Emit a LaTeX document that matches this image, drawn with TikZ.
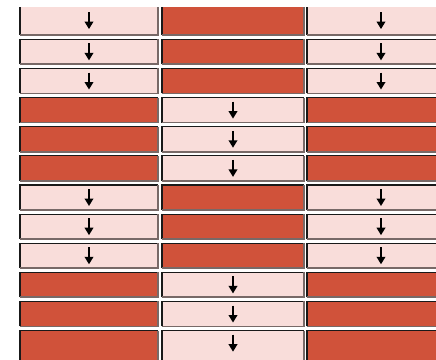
\documentclass[tikz,border=0pt]{standalone}
\usetikzlibrary{arrows.meta}
\definecolor{cpink}{RGB}{249,221,218}
\definecolor{cred}{RGB}{208,82,58}
\definecolor{cshade}{RGB}{120,105,103}
\tikzset{
  cellbox/.style={inner sep=0pt, outer sep=0pt, anchor=north west, draw=none},
  pinkcell/.style={cellbox, fill=cpink},
  redcell/.style={cellbox, fill=cred},
  darkedge/.style={draw=black!90, line width=1.1pt},
  shadeedge/.style={draw=cshade, line width=1.8pt},
  downarrow/.style={-{Triangle[width=8.5pt,length=7.5pt]}, line width=2pt, black},
}
\begin{document}
\begin{tikzpicture}[x=1pt,y=-1pt]
\useasboundingbox (0,0) rectangle (436,359);
\clip (0,7) rectangle (436,359);
\foreach \r in {0,...,11} {
  \pgfmathsetmacro\t{\r==0 ? 6 : 39.3+(\r-1)*29.13}
  \pgfmathsetmacro\h{\r==0 ? 29.2 : (\r==11 ? 32 : 25)}
  \pgfmathsetmacro\ac{\r==0 ? 20.6 : \t+12.6}
  \pgfmathtruncatemacro\grp{mod(floor(\r/3),2)}
  \foreach \c/\x/\w in {0/20/138, 1/162/142, 2/307/148} {
    \pgfmathtruncatemacro\pk{mod(\grp+(\c==1),2)}
    \pgfmathsetmacro\mx{\x+\w/2}
    \ifnum\pk=0
      \node[pinkcell, minimum width=\w pt, minimum height=\h pt] (c\r\c) at (\x,\t) {};
      \coordinate (a\r\c) at (\mx,\ac);
      \draw[downarrow] ([yshift=8.5pt]a\r\c) -- ([yshift=-8.5pt]a\r\c);
    \else
      \node[redcell, minimum width=\w pt, minimum height=\h pt] (c\r\c) at (\x,\t) {};
    \fi
    \draw[darkedge] (c\r\c.south west) -- (c\r\c.north west) -- (c\r\c.north east);
    \draw[shadeedge] (c\r\c.north east) -- (c\r\c.south east) -- (c\r\c.south west);
  }
}
\end{tikzpicture}
\end{document}
